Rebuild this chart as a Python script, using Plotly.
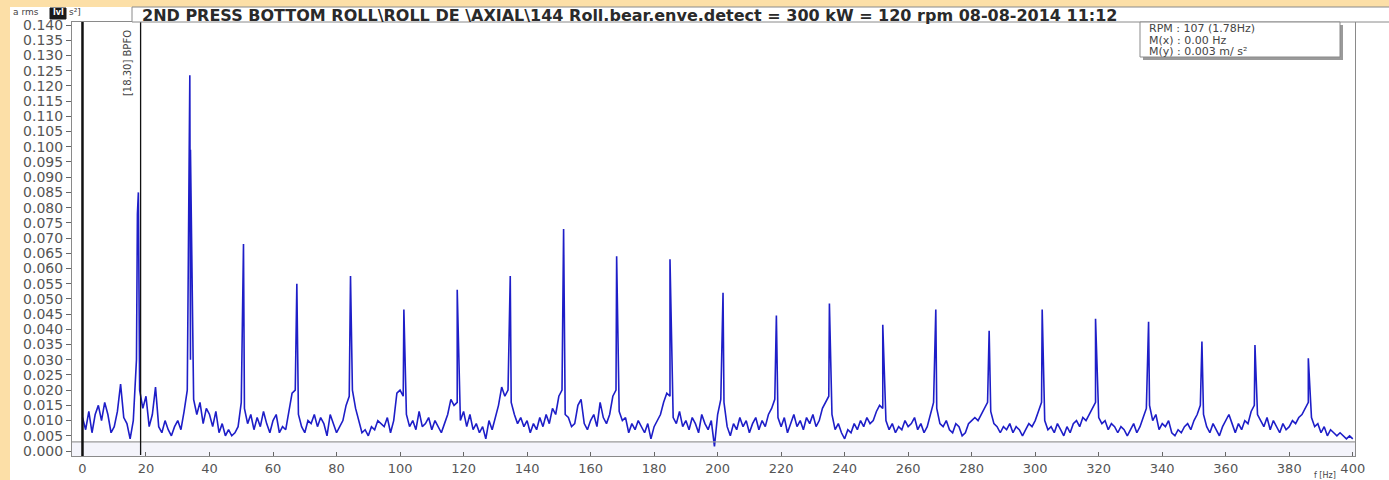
import plotly.graph_objects as go

# ---------------- data ----------------
# background spectrum level at 1 Hz steps, 0..400 Hz  (m/s^2)
floor_vals = [
    0.011, 0.007, 0.013, 0.006, 0.012, 0.015, 0.010, 0.016, 0.012, 0.006,
    0.008, 0.013, 0.022, 0.011, 0.009, 0.004, 0.010, 0.030, 0.020, 0.014,
    0.018, 0.008, 0.012, 0.021, 0.008, 0.006, 0.010, 0.007, 0.005, 0.008,
    0.010, 0.007, 0.013, 0.020, 0.030, 0.017, 0.012, 0.016, 0.009, 0.014,
    0.012, 0.008, 0.013, 0.006, 0.009, 0.005, 0.007, 0.005, 0.006, 0.008,
    0.016, 0.014, 0.009, 0.012, 0.007, 0.011, 0.008, 0.013, 0.009, 0.006,
    0.010, 0.012, 0.006, 0.008, 0.007, 0.013, 0.019, 0.020, 0.012, 0.008,
    0.006, 0.010, 0.009, 0.012, 0.008, 0.011, 0.009, 0.005, 0.012, 0.009,
    0.006, 0.008, 0.010, 0.015, 0.018, 0.020, 0.014, 0.010, 0.006, 0.007,
    0.005, 0.008, 0.007, 0.010, 0.009, 0.008, 0.011, 0.006, 0.010, 0.019,
    0.020, 0.018, 0.012, 0.008, 0.010, 0.007, 0.013, 0.008, 0.009, 0.011,
    0.007, 0.010, 0.008, 0.006, 0.009, 0.012, 0.017, 0.015, 0.016, 0.010,
    0.013, 0.008, 0.012, 0.007, 0.009, 0.006, 0.008, 0.004, 0.010, 0.007,
    0.011, 0.015, 0.021, 0.018, 0.020, 0.016, 0.012, 0.009, 0.011, 0.008,
    0.010, 0.006, 0.009, 0.007, 0.011, 0.008, 0.012, 0.009, 0.014, 0.012,
    0.018, 0.020, 0.012, 0.011, 0.008, 0.009, 0.015, 0.017, 0.009, 0.007,
    0.010, 0.012, 0.008, 0.016, 0.011, 0.009, 0.012, 0.018, 0.020, 0.013,
    0.010, 0.011, 0.006, 0.009, 0.007, 0.010, 0.008, 0.006, 0.009, 0.004,
    0.008, 0.010, 0.012, 0.016, 0.019, 0.018, 0.011, 0.009, 0.013, 0.008,
    0.010, 0.007, 0.011, 0.009, 0.006, 0.012, 0.009, 0.007, 0.010, 0.0015,
    0.012, 0.017, 0.016, 0.008, 0.005, 0.009, 0.007, 0.011, 0.008, 0.010,
    0.006, 0.009, 0.011, 0.007, 0.010, 0.008, 0.012, 0.014, 0.017, 0.011,
    0.008, 0.011, 0.006, 0.009, 0.012, 0.008, 0.010, 0.007, 0.011, 0.009,
    0.012, 0.008, 0.010, 0.014, 0.016, 0.018, 0.012, 0.007, 0.009, 0.006,
    0.004, 0.007, 0.006, 0.009, 0.007, 0.010, 0.008, 0.011, 0.009, 0.010,
    0.013, 0.015, 0.014, 0.010, 0.007, 0.009, 0.006, 0.008, 0.007, 0.010,
    0.008, 0.009, 0.011, 0.007, 0.009, 0.006, 0.008, 0.012, 0.016, 0.014,
    0.009, 0.008, 0.010, 0.007, 0.006, 0.009, 0.008, 0.005, 0.006, 0.009,
    0.010, 0.011, 0.010, 0.012, 0.014, 0.016, 0.013, 0.009, 0.008, 0.006,
    0.008, 0.007, 0.009, 0.006, 0.008, 0.007, 0.005, 0.007, 0.009, 0.008,
    0.010, 0.013, 0.016, 0.010, 0.007, 0.008, 0.006, 0.009, 0.007, 0.005,
    0.008, 0.006, 0.009, 0.010, 0.008, 0.011, 0.010, 0.012, 0.014, 0.016,
    0.011, 0.009, 0.010, 0.007, 0.009, 0.008, 0.006, 0.008, 0.007, 0.005,
    0.007, 0.009, 0.006, 0.008, 0.011, 0.014, 0.015, 0.010, 0.012, 0.007,
    0.009, 0.008, 0.010, 0.006, 0.005, 0.007, 0.006, 0.008, 0.009, 0.007,
    0.010, 0.012, 0.015, 0.012, 0.008, 0.006, 0.009, 0.007, 0.005, 0.008,
    0.010, 0.012, 0.009, 0.006, 0.009, 0.007, 0.010, 0.009, 0.013, 0.015,
    0.012, 0.010, 0.008, 0.011, 0.007, 0.010, 0.008, 0.006, 0.009, 0.007,
    0.008, 0.010, 0.009, 0.011, 0.012, 0.014, 0.016, 0.011, 0.008, 0.009,
    0.006, 0.008, 0.005, 0.007, 0.006, 0.005, 0.006, 0.005, 0.004, 0.005,
    0.004,
]
floor_freqs = list(range(0, 401))

# harmonic peaks (Hz, m/s^2)
peak_freqs = [17.6, 33.8, 50.7, 67.5, 84.4, 101.2, 118.0, 134.7, 151.5, 168.2,
              185.0, 201.7, 218.5, 235.2, 252.0, 268.7, 285.5, 302.2, 319.0,
              335.7, 352.5, 369.2, 386.0]
peak_amps = [0.085, 0.1235, 0.068, 0.055, 0.0575, 0.0465, 0.053, 0.0575, 0.073,
             0.064, 0.063, 0.052, 0.0445, 0.0485, 0.0415, 0.0465, 0.0395,
             0.0465, 0.0435, 0.0425, 0.036, 0.0348, 0.0305]
shoulder_freqs = [17.3, 34.0]
shoulder_amps = [0.078, 0.099]

x_tick_vals = [0, 20, 40, 60, 80, 100, 120, 140, 160, 180, 200, 220, 240, 260,
               280, 300, 320, 340, 360, 380, 400]
x_tick_text = ["0", "20", "40", "60", "80", "100", "120", "140", "160", "180",
               "200", "220", "240", "260", "280", "300", "320", "340", "360",
               "380", "400"]
y_tick_vals = [0.000, 0.005, 0.010, 0.015, 0.020, 0.025, 0.030, 0.035, 0.040,
               0.045, 0.050, 0.055, 0.060, 0.065, 0.070, 0.075, 0.080, 0.085,
               0.090, 0.095, 0.100, 0.105, 0.110, 0.115, 0.120, 0.125, 0.130,
               0.135, 0.140]
y_tick_text = ["0.000", "0.005", "0.010", "0.015", "0.020", "0.025", "0.030",
               "0.035", "0.040", "0.045", "0.050", "0.055", "0.060", "0.065",
               "0.070", "0.075", "0.080", "0.085", "0.090", "0.095", "0.100",
               "0.105", "0.110", "0.115", "0.120", "0.125", "0.130", "0.135",
               "0.140"]

title_text = "2ND PRESS BOTTOM ROLL\\ROLL DE \\AXIAL\\144 Roll.bear.enve.detect = 300 kW = 120 rpm 08-08-2014 11:12"
marker_freq = 18.30
marker_label = "[18.30] BPFO"
cursor_x = 0.0
cursor_y = 0.003
info_lines = ["RPM : 107 (1.78Hz)", "M(x) : 0.00 Hz", "M(y) : 0.003 m/ s²"]

# merge background and peak points in frequency order
pts = sorted(zip(floor_freqs + peak_freqs + shoulder_freqs,
                 floor_vals + peak_amps + shoulder_amps))
freqs = [p[0] for p in pts]
amps = [p[1] for p in pts]

# ---------------- layout helpers ----------------
W, H = 1389, 480
L, R, T, B = 72, 34, 22, 24
PW, PH = W - L - R, H - T - B


def px(x):
    return (x - L) / PW


def py(y):
    return (H - B - y) / PH


PEACH = "#FCDFA7"
GRAY_TXT = "#555555"
FONT = "DejaVu Sans"

fig = go.Figure()
fig.add_trace(go.Scatter(x=freqs, y=amps, mode="lines",
                         line=dict(color="#1e1ec8", width=1.6),
                         hoverinfo="skip"))

shapes = []
# light band below horizontal cursor
shapes.append(dict(type="rect", xref="x", yref="y", x0=-3.3, x1=400.7,
                   y0=-0.00164, y1=cursor_y, fillcolor="#f4f4fb",
                   line=dict(width=0), layer="below"))
shapes.append(dict(type="line", xref="paper", yref="y", x0=0, x1=1,
                   y0=0.0, y1=0.0, line=dict(color="#c8c8d8", width=1),
                   layer="below"))
# horizontal cursor
shapes.append(dict(type="line", xref="paper", yref="y", x0=0, x1=1,
                   y0=cursor_y, y1=cursor_y, line=dict(color="#9a9a9a", width=1.2)))
# vertical cursor at 0 Hz
shapes.append(dict(type="line", xref="x", yref="paper", x0=cursor_x, x1=cursor_x,
                   y0=0, y1=1, line=dict(color="#111111", width=2.5)))
# marker line
shapes.append(dict(type="line", xref="x", yref="paper", x0=marker_freq,
                   x1=marker_freq, y0=py(455), y1=1,
                   line=dict(color="#111111", width=1.3)))
# peach frame strips
shapes.append(dict(type="rect", xref="paper", yref="paper", x0=px(0), x1=px(W),
                   y0=py(7), y1=py(0), fillcolor=PEACH, line=dict(width=0)))
shapes.append(dict(type="rect", xref="paper", yref="paper", x0=px(0), x1=px(10),
                   y0=py(H), y1=py(0), fillcolor=PEACH, line=dict(width=0)))
# title bar
shapes.append(dict(type="rect", xref="paper", yref="paper", x0=px(132), x1=px(W + 5),
                   y0=py(22), y1=py(7), fillcolor="white",
                   line=dict(color="#8a8a8a", width=1)))
# lvl box
shapes.append(dict(type="rect", xref="paper", yref="paper", x0=px(50), x1=px(66),
                   y0=py(19), y1=py(8), fillcolor="#1a1a1a",
                   line=dict(color="#1a1a1a", width=1)))
# info box shadow + box
shapes.append(dict(type="rect", xref="paper", yref="paper", x0=px(1143), x1=px(1343),
                   y0=py(60), y1=py(25), fillcolor="#9a9a9a", line=dict(width=0)))
shapes.append(dict(type="rect", xref="paper", yref="paper", x0=px(1140), x1=px(1340),
                   y0=py(57), y1=py(22), fillcolor="white",
                   line=dict(color="#8a8a8a", width=1)))

annotations = []
annotations.append(dict(xref="paper", yref="paper", x=px(11), y=py(12),
                        xanchor="left", yanchor="middle", text="a rms",
                        showarrow=False, font=dict(family=FONT, size=9, color="#444")))
annotations.append(dict(xref="paper", yref="paper", x=px(58), y=py(13),
                        xanchor="center", yanchor="middle", text="<b>lvl</b>",
                        showarrow=False, font=dict(family=FONT, size=8, color="white")))
annotations.append(dict(xref="paper", yref="paper", x=px(67), y=py(12),
                        xanchor="left", yanchor="middle", text="s²]",
                        showarrow=False, font=dict(family=FONT, size=9, color="#444")))
annotations.append(dict(xref="paper", yref="paper", x=px(140), y=py(15),
                        xanchor="left", yanchor="middle", text="<b>" + title_text + "</b>",
                        showarrow=False,
                        font=dict(family=FONT, size=16, color="#2a2a2a")))
for i, line in enumerate(info_lines):
    annotations.append(dict(xref="paper", yref="paper", x=px(1147),
                            y=py(29 + 11 * i), xanchor="left", yanchor="middle",
                            text=line, showarrow=False,
                            font=dict(family=FONT, size=11, color="#444")))
annotations.append(dict(xref="x", yref="paper", x=marker_freq, y=py(28),
                        xanchor="right", yanchor="top", xshift=-6,
                        text=marker_label, textangle=-90, showarrow=False,
                        font=dict(family=FONT, size=10, color="#444")))
annotations.append(dict(xref="paper", yref="paper", x=px(1338), y=py(475),
                        xanchor="right", yanchor="middle", text="f [Hz]",
                        showarrow=False, font=dict(family=FONT, size=8, color="#444")))

fig.update_layout(
    width=W, height=H,
    margin=dict(l=L, r=R, t=T, b=B, pad=0, autoexpand=False),
    paper_bgcolor="white", plot_bgcolor="white",
    showlegend=False,
    shapes=shapes, annotations=annotations,
    xaxis=dict(range=[-3.3, 400.7], tickvals=x_tick_vals, ticktext=x_tick_text,
               showgrid=False, zeroline=False, showline=True, linecolor="#8a8a8a",
               linewidth=1, mirror=True, ticks="inside", ticklen=4,
               automargin=False,
               tickcolor="#666", tickfont=dict(family=FONT, size=13, color=GRAY_TXT)),
    yaxis=dict(range=[-0.00164, 0.141], tickvals=y_tick_vals, ticktext=y_tick_text,
               showgrid=False, zeroline=False, showline=True, linecolor="#8a8a8a",
               linewidth=1, mirror=True, ticks="outside", ticklen=5,
               automargin=False,
               tickcolor="#666", tickfont=dict(family=FONT, size=14, color=GRAY_TXT)),
)

fig.write_html("out.html", config={"displayModeBar": False},
               post_script="document.body.style.margin='0';")
